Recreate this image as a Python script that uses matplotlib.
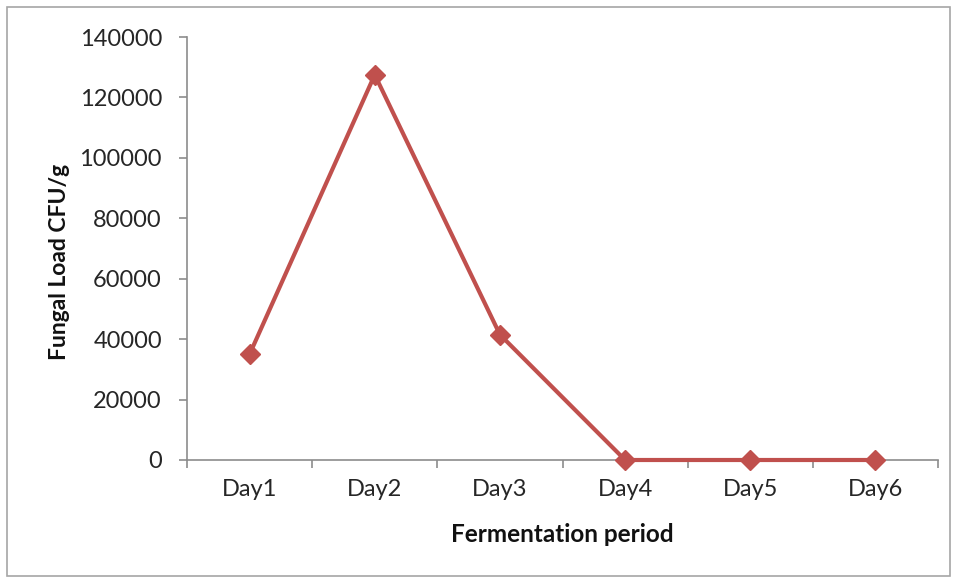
import matplotlib.pyplot as plt
from matplotlib.patches import Rectangle

days = ["Day1", "Day2", "Day3", "Day4", "Day5", "Day6"]
fungal_load = [35000, 127500, 41500, 0, 0, 0]
y_ticks = [0, 20000, 40000, 60000, 80000, 100000, 120000, 140000]

plt.rcParams['font.family'] = ['Lato', 'DejaVu Sans']

fig = plt.figure(figsize=(9.57, 5.80), dpi=100)
fig.patches.append(Rectangle((7 / 957, 4 / 580), 943 / 957, 569 / 580,
                             transform=fig.transFigure, fill=False,
                             edgecolor='#a6a6a6', linewidth=1.2))
ax = fig.add_axes([187 / 957, 120 / 580, 751 / 957, 423 / 580])

x = list(range(len(days)))
ax.plot(x, fungal_load, color='#c0504d', linewidth=3, marker='D',
        markersize=10, clip_on=False, zorder=3)

ax.set_xlim(-0.5, len(days) - 0.5)
ax.set_ylim(0, 140000)
ax.set_yticks(y_ticks)
ax.set_yticklabels([str(v) for v in y_ticks], fontsize=17, color='#262626')
ax.set_xticks(x)
ax.set_xticklabels(days, fontsize=17, color='#262626')
ax.set_xticks([i - 0.5 for i in range(len(days) + 1)], minor=True)
ax.tick_params(axis='x', which='major', length=0, pad=14)
ax.tick_params(axis='x', which='minor', length=6, color='#8c8c8c', width=1.2)
ax.tick_params(axis='y', length=6, color='#8c8c8c', width=1.2, pad=12)

for s in ['top', 'right']:
    ax.spines[s].set_visible(False)
for s in ['left', 'bottom']:
    ax.spines[s].set_color('#8c8c8c')
    ax.spines[s].set_linewidth(1.2)

fig.text(562 / 957, 1 - 535 / 580, "Fermentation period", ha='center', va='center',
         fontsize=17.5, fontweight='bold', color='#111111')
fig.text(60 / 957, 1 - 262 / 580, "Fungal Load CFU/g", ha='center', va='center',
         rotation=90, fontsize=16.5, fontweight='bold', color='#111111')

fig.savefig("out.png", dpi=100)
